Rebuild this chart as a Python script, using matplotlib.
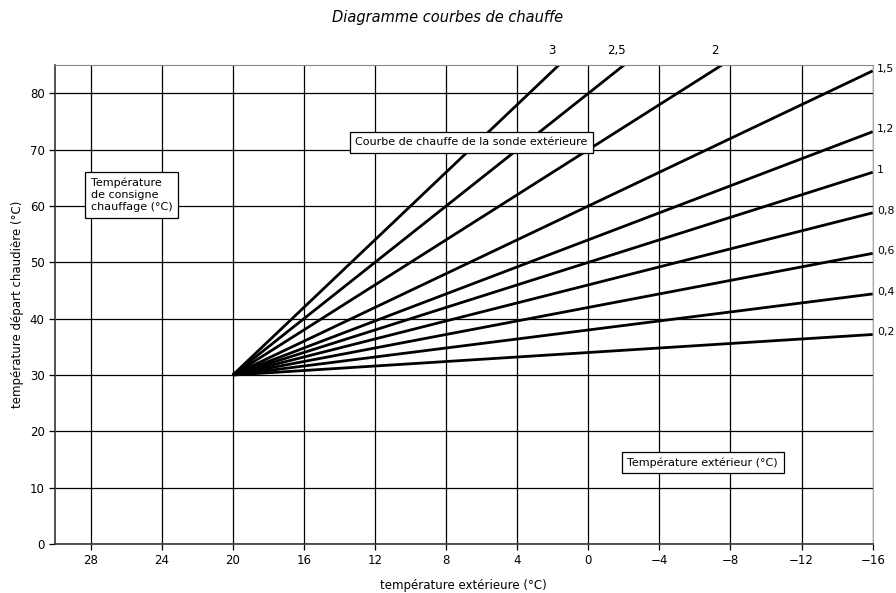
import numpy as np
import matplotlib.pyplot as plt

# pentes des courbes de chauffe
slopes = [0.2, 0.4, 0.6, 0.8, 1, 1.2, 1.5, 2, 2.5, 3]
slope_labels = ['0,2', '0,4', '0,6', '0,8', '1', '1,2', '1,5', '2', '2,5', '3']
x_ticks = [28, 24, 20, 16, 12, 8, 4, 0, -4, -8, -12, -16]
y_ticks = [0, 10, 20, 30, 40, 50, 60, 70, 80]
t_consigne = 20
t_depart_base = 30

plt.rcParams['font.family'] = ['DejaVu Sans']

fig = plt.figure(figsize=(8.96, 5.93), dpi=100)
ax = fig.add_axes([0.0614, 0.0826, 0.9126, 0.8074])

x_min, x_max = 30, -16
y_min, y_max = 0, 85
ax.set_xlim(x_min, x_max)
ax.set_ylim(y_min, y_max)

ax.set_xticks(x_ticks)
ax.set_xticklabels([str(v).replace('-', '\u2212') for v in x_ticks])
ax.set_yticks(y_ticks)
ax.grid(True, color='black', linewidth=0.9)
ax.set_axisbelow(True)
ax.tick_params(labelsize=8.5, length=4, width=0.9, colors='black')
for s in ['left', 'bottom']:
    ax.spines[s].set_color('#333333')
    ax.spines[s].set_linewidth(1.2)
ax.spines['top'].set_color('#888888')
ax.spines['right'].set_color('#aaaaaa')

xs = np.array([t_consigne, x_max])
for k, lab in zip(slopes, slope_labels):
    ys = t_depart_base + k * (t_consigne - xs)
    ax.plot(xs, ys, color='black', linewidth=2, clip_on=True, solid_capstyle='butt')
    y_end = ys[-1]
    if y_end <= y_max:
        ax.text(-16.25, y_end + 0.4, lab, fontsize=7.8, ha='left', va='center', clip_on=False)
    else:
        x_top = t_consigne - (y_max - t_depart_base) / k
        ax.text(x_top + 0.4, y_max + 2.6, lab, fontsize=8.5, ha='center', va='center', clip_on=False)

box = dict(boxstyle='square,pad=0.5', facecolor='white', edgecolor='black', linewidth=0.9)
ax.text(28.0, 62.0, 'Température\nde consigne\nchauffage (°C)', fontsize=8, ha='left', va='center',
        bbox=box, linespacing=1.3)
ax.text(13.1, 71.3, 'Courbe de chauffe de la sonde extérieure', fontsize=8, ha='left', va='center', bbox=box)
ax.text(-2.2, 14.5, 'Température extérieur (°C)', fontsize=8, ha='left', va='center', bbox=box)

ax.set_xlabel('température extérieure (°C)', fontsize=8.5, labelpad=8)
ax.set_ylabel('température départ chaudière (°C)', fontsize=8.5, labelpad=4)
fig.suptitle('Diagramme courbes de chauffe', fontsize=10.5, style='italic', y=0.983)

fig.savefig('out.png', dpi=100)
